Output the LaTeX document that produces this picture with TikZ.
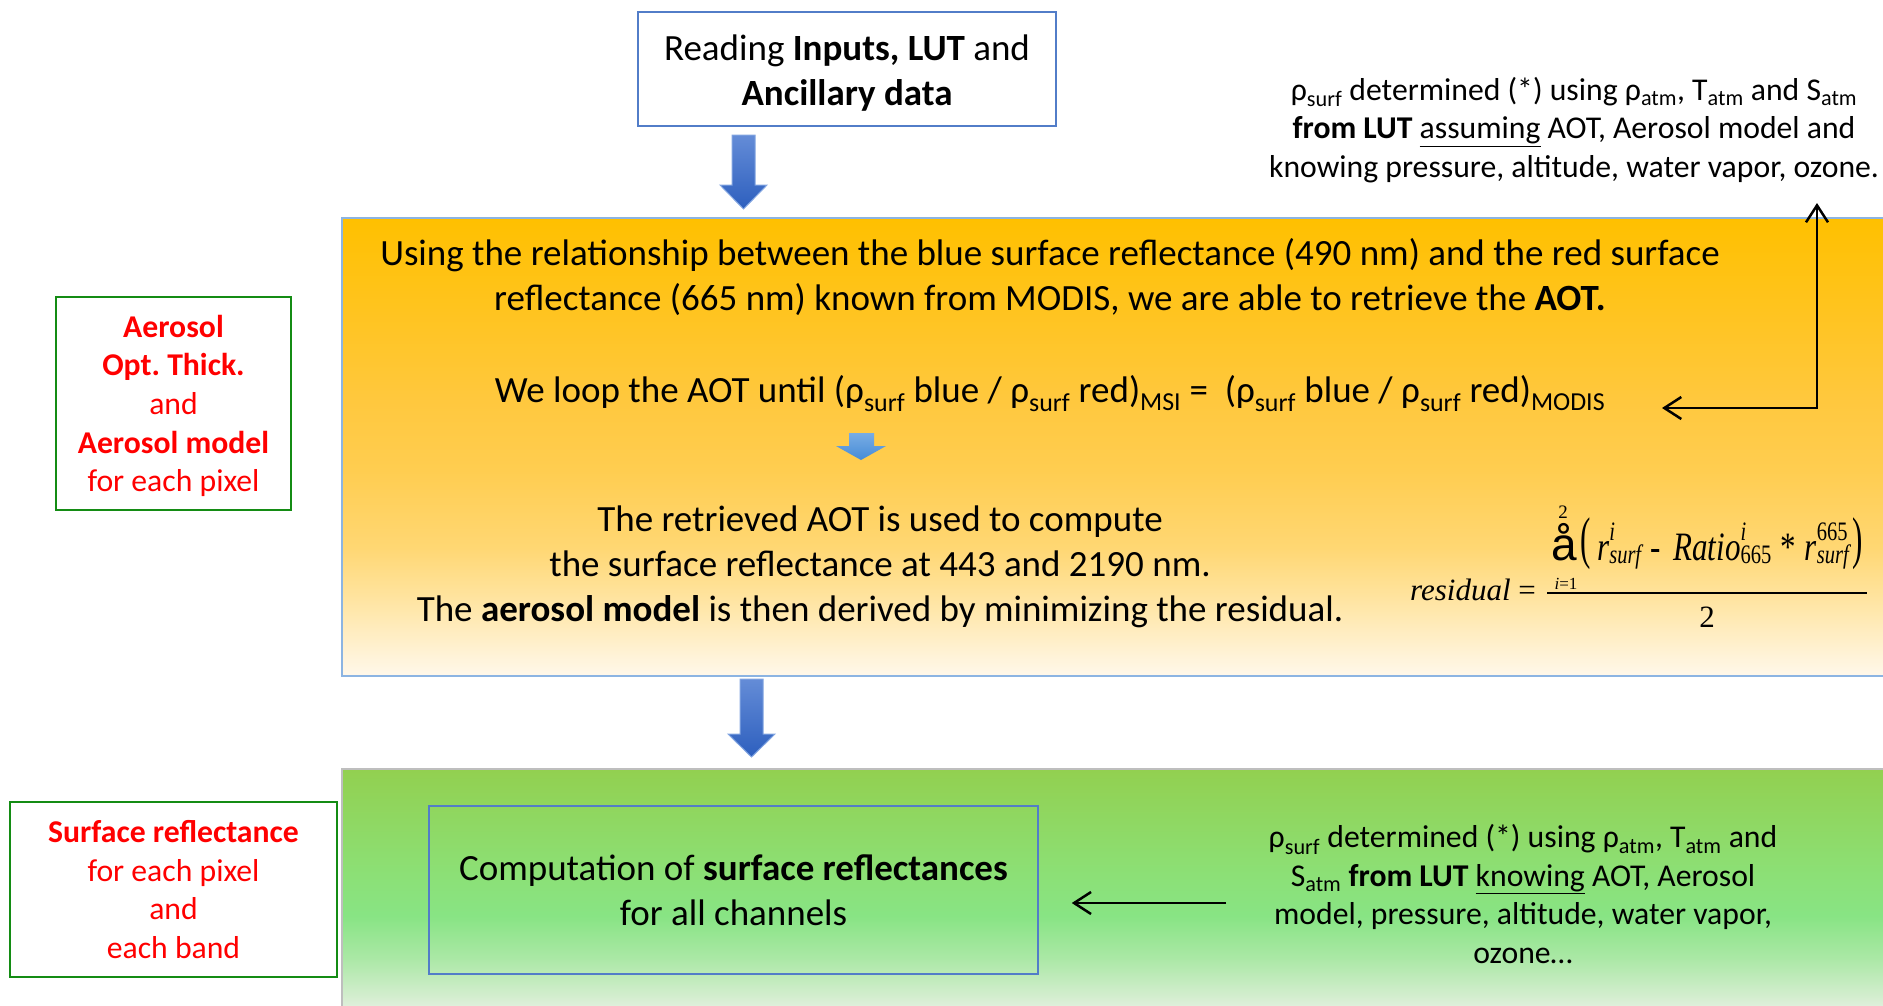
\documentclass[tikz,border=0pt]{standalone}
\usepackage{fontspec}
\setmainfont{Carlito}
\newfontfamily\tnr{Liberation Serif}
\newfontfamily\arsans{Liberation Sans}
\usepackage{graphicx}
\usetikzlibrary{arrows.meta,calc}
\frenchspacing

\definecolor{oT}{RGB}{255,192,0}
\definecolor{oM1}{RGB}{255,200,62}
\definecolor{oM2}{RGB}{255,205,80}
\definecolor{oM3}{RGB}{255,215,115}
\definecolor{oM4}{RGB}{255,228,160}
\definecolor{oB}{RGB}{255,248,235}
\pgfdeclareverticalshading{orangefade}{100bp}{color(0bp)=(oB); color(25bp)=(oB); color(33.5bp)=(oM4); color(39bp)=(oM3); color(47.5bp)=(oM2); color(55bp)=(oM1); color(75bp)=(oT); color(100bp)=(oT)}
\definecolor{gT}{RGB}{146,208,80}
\definecolor{gM1}{RGB}{140,224,118}
\definecolor{gM2}{RGB}{136,228,132}
\definecolor{gM3}{RGB}{170,232,165}
\definecolor{gM4}{RGB}{215,238,210}
\definecolor{gB}{RGB}{232,242,232}
\pgfdeclareverticalshading{greenfade}{100bp}{color(0bp)=(gB); color(25bp)=(gB); color(28bp)=(gM4); color(36.5bp)=(gM3); color(45bp)=(gM2); color(53.5bp)=(gM1); color(75bp)=(gT); color(100bp)=(gT)}

\definecolor{boxblue}{RGB}{82,125,200}
\definecolor{panelblue}{RGB}{140,180,226}
\definecolor{panelgray}{RGB}{190,190,190}
\definecolor{darkgreen}{RGB}{20,140,20}
\definecolor{arrowtop}{RGB}{100,140,215}
\definecolor{arrowbot}{RGB}{45,95,190}
\definecolor{arrowedge}{RGB}{130,165,225}
\definecolor{smalltop}{RGB}{120,172,228}
\definecolor{smallbot}{RGB}{70,140,215}
\definecolor{redtext}{RGB}{255,0,0}

\newcommand{\fmain}{\fontsize{37}{45}\selectfont}
\newcommand{\fsec}{\fontsize{31.7}{38.6}\selectfont}
\newcommand{\fform}{\tnr\fontsize{31}{36}\selectfont}
\newcommand{\fscr}{\tnr\fontsize{20.5}{22}\selectfont}
\newcommand{\supsubx}[2]{\rlap{\raisebox{15pt}{\fscr #1}}\raisebox{-3pt}{\fscr #2}}

\tikzset{
  txtmain/.style={inner sep=0pt, align=center, font=\fmain},
  txtsec/.style={inner sep=0pt, align=center, font=\fsec},
  bluebox/.style={draw=boxblue, line width=1.5pt, inner sep=0pt, align=center, font=\fmain},
  greenlabel/.style={draw=darkgreen, line width=2pt, fill=white, inner sep=0pt, align=center, font=\fsec, text=redtext},
  blockarrow/.style={top color=arrowtop, bottom color=arrowbot, draw=arrowedge, line width=1pt},
  smallarrow/.style={top color=smalltop, bottom color=smallbot, draw=none},
  thinarrow/.style={line width=2.5pt, arrows={-Straight Barb[length=17pt,width=22pt]}},
  looparrow/.style={line width=2.5pt, arrows={Straight Barb[length=17pt,width=22pt]-Straight Barb[length=17pt,width=22pt]}},
  formpart/.style={inner sep=0pt},
}

\begin{document}
\begin{tikzpicture}[x=1pt,y=-1pt]
\useasboundingbox (0,0) rectangle (1883,1005);

% panels
\node[shade, shading=orangefade, draw=panelblue, line width=1.3pt, minimum width=1550pt, minimum height=458pt, inner sep=0pt] (orangepanel) at (1117,447) {};
\node[shade, shading=greenfade, draw=panelgray, line width=1.3pt, minimum width=1550pt, minimum height=245pt, inner sep=0pt] (greenpanel) at (1117,891.5) {};

% top box
\node[bluebox, minimum width=418pt, minimum height=114pt] (readbox) at (847,69) {};
\node[txtmain] (readtext) at (847,73) {Reading \textbf{Inputs, LUT} and\\\textbf{Ancillary data}};

% block arrows
\path[blockarrow] (732,135) -- (755,135) -- (755,185) -- (767,185) -- (743.5,209) -- (720,185) -- (732,185) -- cycle;
\path[blockarrow] (740,679) -- (763,679) -- (763,734) -- (775,734) -- (751.5,757) -- (728,734) -- (740,734) -- cycle;
\path[smallarrow] (849,433) -- (874,433) -- (874,446) -- (886,446) -- (861,460) -- (836,446) -- (849,446) -- cycle;

% orange panel texts
\node[txtmain] (reltext) at (1050,277) {Using the relationship between the blue surface reflectance (490 nm) and the red surface\\reflectance (665 nm) known from MODIS, we are able to retrieve the \textbf{AOT.}};
\node[txtmain, anchor=base] (looptext) at (1050,402) {We loop the AOT until (ρ\textsubscript{surf} blue / ρ\textsubscript{surf} red)\textsubscript{MSI} =\ \ (ρ\textsubscript{surf} blue / ρ\textsubscript{surf} red)\textsubscript{MODIS}};
\node[txtmain] (aottext) at (880,567) {The retrieved AOT is used to compute\\the surface reflectance at 443 and 2190 nm.\\The \textbf{aerosol model} is then derived by minimizing the residual.};

% formula
\node[formpart, anchor=base west] (resid) at (1410,600) {\fform\itshape residual\upshape\ =};
\coordinate (fbarL) at (1547,593);
\coordinate (fbarR) at (1867,593);
\draw[line width=1.3pt] (fbarL) -- (fbarR);
\node[formpart] (sumsym) at (1564,542) {\arsans\fontsize{46}{46}\selectfont å};
\node[formpart] (sumtop) at (1563,512) {\tnr\fontsize{19}{19}\selectfont 2};
\node[formpart] (sumbot) at (1566,584) {\tnr\fontsize{17}{17}\selectfont\itshape i\upshape =1};
\node[formpart] (lparen) at (1586,544) {\fform\scalebox{1}[1.85]{(}};
\node[formpart, anchor=base west] (numer) at (1597,560) {\scalebox{1}[1.3]{\fform\itshape r\supsubx{\itshape i}{\itshape surf}\hspace{9pt}\upshape-\hspace{13pt}\itshape Ratio\supsubx{\itshape i}{\upshape 665}\hspace{9pt}\upshape*\hspace{9pt}\itshape r\supsubx{\upshape 665}{\itshape surf}}};
\node[formpart] (rparen) at (1858,544) {\fform\scalebox{1}[1.85]{)}};
\node[formpart] (denom) at (1707,617) {\fform 2};

% loop arrow top right
\node[txtsec] (lutassume) at (1574,130) {ρ\textsubscript{surf} determined (*) using ρ\textsubscript{atm}, T\textsubscript{atm} and S\textsubscript{atm}\\\textbf{from LUT} \underline{assuming} AOT, Aerosol model and\\knowing pressure, altitude, water vapor, ozone.};
\coordinate (loopL) at (1662,408);
\coordinate (loopT) at (1817,203);
\draw[looparrow] (loopL) -| (loopT);

% left labels
\node[greenlabel, minimum width=235pt, minimum height=213pt] (aerolabel) at (173.5,403.5) {};
\node[txtsec, text=redtext] (aerotext) at (173.5,406) {\textbf{Aerosol}\\\textbf{Opt. Thick.}\\and\\\textbf{Aerosol model}\\for each pixel};
\node[greenlabel, minimum width=327pt, minimum height=175pt] (surflabel) at (173.5,889.5) {\textbf{Surface reflectance}\\for each pixel\\and\\each band};

% green panel content
\node[bluebox, minimum width=609pt, minimum height=168pt] (compbox) at (733.5,890) {Computation of \textbf{surface reflectances}\\for all channels};
\node[txtsec] (lutknow) at (1523,894) {ρ\textsubscript{surf} determined (*) using ρ\textsubscript{atm}, T\textsubscript{atm} and\\S\textsubscript{atm} \textbf{from LUT} \underline{knowing} AOT, Aerosol\\model, pressure, altitude, water vapor,\\ozone…};
\coordinate (garrow) at (1226,903);
\draw[thinarrow, shorten >=33pt] (garrow) -- (compbox.east |- garrow);
\end{tikzpicture}
\end{document}
